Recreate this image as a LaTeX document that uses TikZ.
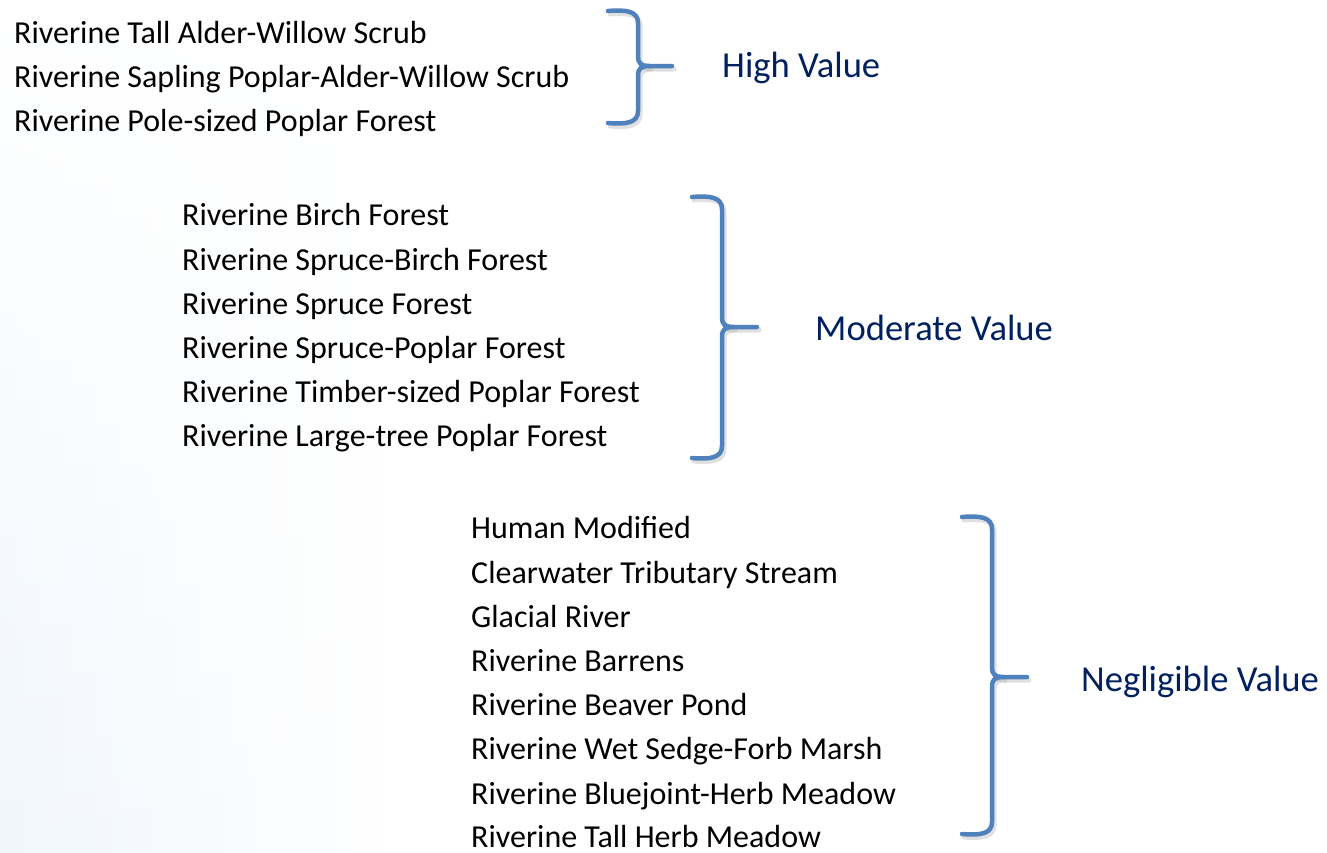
\documentclass[tikz,border=0pt]{standalone}
\usepackage{fontspec}
\setmainfont{Carlito}
\usetikzlibrary{calc,fadings}
\definecolor{navy}{RGB}{0,32,96}
\definecolor{braceblue}{RGB}{79,129,189}
\definecolor{bgblue}{RGB}{240,246,252}
\newcommand{\itemfont}{\fontsize{32}{38}\selectfont}
\newcommand{\labfont}{\fontsize{36.6}{42}\selectfont}
\tikzset{
  item/.style={anchor=base west, font=\itemfont, text=black, inner sep=0pt, text depth=0pt},
  lab/.style={anchor=base west, font=\labfont, text=navy, inner sep=0pt},
  bracestroke/.style={draw=braceblue, line width=4.5pt, line cap=round, line join=round},
  braceshadow/.style={draw=black!35, opacity=0.35, line width=5pt, line cap=round, line join=round},
}
% brace: #2 left x, #3 vertical x, #4 tip x, #5 top y, #6 mid y, #7 bottom y
\newcommand{\mybrace}[7][bracestroke]{%
  \draw[#1] (#2,#5) .. controls (#3-12,#5-1.5) and (#3,#5) .. (#3,#5+12)
     -- (#3,#6-9) .. controls (#3,#6-3) and (#3+3,#6) .. (#3+11,#6) -- (#4,#6);
  \draw[#1] (#3+11,#6) .. controls (#3+3,#6) and (#3,#6+3) .. (#3,#6+9)
     -- (#3,#7-12) .. controls (#3,#7) and (#3-12,#7+1.5) .. (#2,#7);
}
\begin{document}
\begin{tikzpicture}[x=1pt,y=-1pt]
\useasboundingbox (0,0) rectangle (1327,852);
\shade[left color=bgblue, right color=white, path fading=north] (0,0) rectangle (400,852);
% High value
\node[item] (h1) at (14,43) {Riverine Tall Alder-Willow Scrub};
\node[item] (h2) at (14,87) {Riverine Sapling Poplar-Alder-Willow Scrub};
\node[item] (h3) at (14,131) {Riverine Pole-sized Poplar Forest};
\node[lab] (hv) at (722,77) {High Value};
% Moderate value
\node[item] (m1) at (182,225) {Riverine Birch Forest};
\node[item] (m2) at (182,270) {Riverine Spruce-Birch Forest};
\node[item] (m3) at (182,314) {Riverine Spruce Forest};
\node[item] (m4) at (182,358) {Riverine Spruce-Poplar Forest};
\node[item] (m5) at (182,402) {Riverine Timber-sized Poplar Forest};
\node[item] (m6) at (182,446) {Riverine Large-tree Poplar Forest};
\node[lab] (mv) at (815,340) {Moderate Value};
% Negligible value
\node[item] (n1) at (471,538) {Human Modified};
\node[item] (n2) at (471,583) {Clearwater Tributary Stream};
\node[item] (n3) at (471,627) {Glacial River};
\node[item] (n4) at (471,671) {Riverine Barrens};
\node[item] (n5) at (471,715) {Riverine Beaver Pond};
\node[item] (n6) at (471,759) {Riverine Wet Sedge-Forb Marsh};
\node[item] (n7) at (471,804) {Riverine Bluejoint-Herb Meadow};
\node[item] (n8) at (471,847) {Riverine Tall Herb Meadow};
\node[lab] (nv) at (1081,691) {Negligible Value};
% braces (shadows)
\begin{scope}[shift={(2,3)}]
\mybrace[braceshadow]{608}{638}{672}{11}{66}{123}
\mybrace[braceshadow]{692}{722}{757}{197}{327}{458}
\mybrace[braceshadow]{962}{992}{1027}{517}{677}{834}
\end{scope}
\mybrace{608}{638}{672}{11}{66}{123}
\mybrace{692}{722}{757}{197}{327}{458}
\mybrace{962}{992}{1027}{517}{677}{834}
\end{tikzpicture}
\end{document}
